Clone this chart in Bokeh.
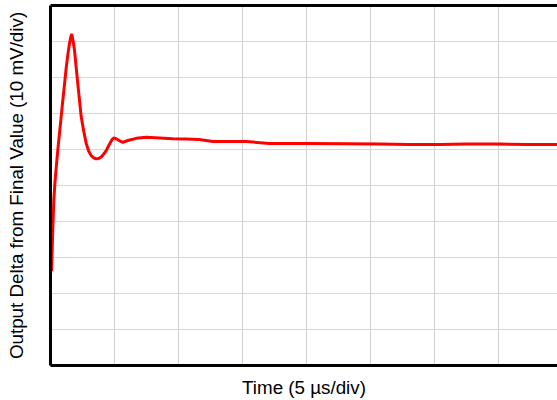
from bokeh.plotting import figure
from bokeh.models import Range1d, LinearAxis, FixedTicker, Grid
from bokeh.embed import file_html
from bokeh.resources import INLINE

# Time in microseconds, output delta in mV
time_us = [0.08, 0.18, 0.26, 0.35, 0.45, 0.57, 0.70, 0.83, 0.96, 1.10, 1.23, 1.36, 1.48, 1.58, 1.66,
           1.76, 1.88, 2.00, 2.13, 2.27, 2.40, 2.60, 2.79, 2.98, 3.18, 3.38, 3.57, 3.76, 3.96,
           4.15, 4.35, 4.52, 4.69, 4.82, 4.95, 5.10, 5.26, 5.45, 5.65, 6.04, 6.70, 7.48,
           8.52, 9.55, 10.6, 11.6, 12.7, 15.3, 17.1, 20.0, 23.1, 25.7, 28.0, 30.4, 32.5,
           35.1, 37.3, 39.6]
delta_mV = [-33.8, -22.0, -14.1, -9.0, -4.9, -0.2, 4.4, 9.0, 13.6, 18.3, 22.8, 26.5, 29.4, 31.2, 32.1,
            30.2, 27.4, 23.0, 18.3, 13.5, 9.0, 5.0, 1.7, -0.4, -1.7, -2.3, -2.6, -2.5, -2.1,
            -1.3, -0.3, 0.9, 2.0, 2.8, 3.2, 3.0, 2.7, 2.3, 2.0, 2.5, 3.1, 3.4,
            3.2, 3.0, 2.9, 2.8, 2.2, 2.2, 1.7, 1.7, 1.6, 1.5, 1.4, 1.4, 1.5,
            1.5, 1.4, 1.4]

x_ticks = [0, 5, 10, 15, 20, 25, 30, 35, 40]
y_ticks = [-60, -50, -40, -30, -20, -10, 0, 10, 20, 30, 40]

p = figure(width=557, height=400, output_backend="svg", toolbar_location=None,
           x_range=Range1d(0, 39.6), y_range=Range1d(-60, 40),
           x_axis_type=None, y_axis_type=None,
           min_border_left=50, min_border_right=0, min_border_top=5, min_border_bottom=34)
p.outline_line_color = None
p.background_fill_color = "white"
p.border_fill_color = "white"

def make_axis(label=None, standoff=0):
    ax = LinearAxis(ticker=FixedTicker(ticks=[]))
    ax.axis_line_color = "black"
    ax.axis_line_width = 3
    ax.major_tick_in = 0
    ax.major_tick_out = 0
    ax.minor_tick_in = 0
    ax.minor_tick_out = 0
    ax.major_label_standoff = 0
    if label is not None:
        ax.axis_label = label
        ax.axis_label_standoff = standoff
        ax.axis_label_text_font = "Liberation Sans"
        ax.axis_label_text_font_size = "18.8px"
        ax.axis_label_text_font_style = "normal"
        ax.axis_label_text_color = "#000000"
    return ax

p.add_layout(make_axis("Time (5 µs/div)", 11), "below")
p.add_layout(make_axis("Output Delta from Final Value (10 mV/div)", 24), "left")
p.add_layout(make_axis(), "above")

p.add_layout(Grid(dimension=0, ticker=FixedTicker(ticks=x_ticks),
                  grid_line_color="#d0d0d0", grid_line_width=1))
p.add_layout(Grid(dimension=1, ticker=FixedTicker(ticks=y_ticks),
                  grid_line_color="#d8d8d8", grid_line_width=1))

p.line(time_us, delta_mV, line_color="#ff0000", line_width=3)

open("out.html", "w").write(file_html(p, INLINE))
